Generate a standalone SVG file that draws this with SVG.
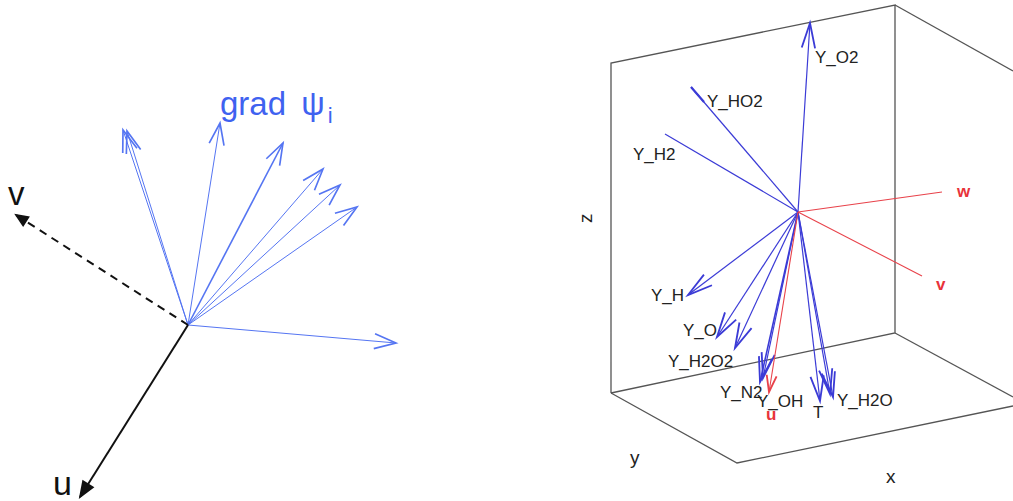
<svg xmlns="http://www.w3.org/2000/svg" width="1013" height="501" viewBox="0 0 1013 501">
<style>
.lb{stroke:#5575f2;stroke-width:1;fill:none}
.rb{stroke:#3b3bd6;stroke-width:1.2;fill:none}
.rr{stroke:#e8424a;stroke-width:1.1;fill:none}
.box{stroke:#555;stroke-width:1.3;fill:none}
.t{font-family:"Liberation Sans",Arial,sans-serif;font-size:17px;fill:#222}
.tr{font-family:"Liberation Sans",Arial,sans-serif;font-size:17px;font-weight:bold;fill:#e8333a}
.ax{font-family:"Liberation Sans",Arial,sans-serif;font-size:19px;fill:#222}
</style>
<defs>
<marker id="ml" markerUnits="userSpaceOnUse" orient="auto" refX="0" refY="0" markerWidth="30" markerHeight="30" viewBox="-16 -8 18 16" overflow="visible">
<path d="M-13,-4.5 L0,0 L-13,4.5" fill="none" stroke="#5575f2" stroke-width="1"/>
</marker>
<marker id="mr" markerUnits="userSpaceOnUse" orient="auto" refX="0" refY="0" markerWidth="30" markerHeight="30" viewBox="-16 -8 18 16" overflow="visible">
<path d="M-15,-4 L0,0 L-15,4" fill="none" stroke="#3b3bd6" stroke-width="1.1"/>
</marker>
<marker id="mred" markerUnits="userSpaceOnUse" orient="auto" refX="0" refY="0" markerWidth="30" markerHeight="30" viewBox="-16 -8 18 16" overflow="visible">
<path d="M-10,-3 L0,0 L-10,3" fill="none" stroke="#e8424a" stroke-width="1.1"/>
</marker>
<marker id="mk" markerUnits="userSpaceOnUse" orient="auto" refX="0" refY="0" markerWidth="30" markerHeight="30" viewBox="-16 -8 18 16" overflow="visible">
<path d="M-9,-3.5 L0,0 L-9,3.5 Z" fill="#111" stroke="#111" stroke-width="1"/>
</marker>
<marker id="mk2" markerUnits="userSpaceOnUse" orient="auto" refX="0" refY="0" markerWidth="30" markerHeight="30" viewBox="-16 -8 18 16" overflow="visible">
<path d="M-7,-3 L0,0 L-7,3 Z" fill="#111" stroke="#111" stroke-width="1"/>
</marker>
</defs>

<g id="left-panel">
<g id="left-connectors">
<line class="lb" x1="188" y1="325" x2="123" y2="130" marker-end="url(#ml)"/>
<line class="lb" x1="188" y1="325" x2="127" y2="131" marker-end="url(#ml)"/>
<line class="lb" x1="188" y1="325" x2="220" y2="123" marker-end="url(#ml)"/>
<line class="lb" x1="188" y1="325" x2="283" y2="143" marker-end="url(#ml)" style="stroke-width:1.6"/>
<line class="lb" x1="188" y1="325" x2="323" y2="169" marker-end="url(#ml)"/>
<line class="lb" x1="188" y1="325" x2="340" y2="185" marker-end="url(#ml)"/>
<line class="lb" x1="188" y1="325" x2="357" y2="207" marker-end="url(#ml)"/>
<line class="lb" x1="188" y1="325" x2="396" y2="343" marker-end="url(#ml)"/>
<line x1="188" y1="325" x2="80" y2="497" stroke="#111" stroke-width="2" marker-end="url(#mk)"/>
<line x1="188" y1="325" x2="16" y2="215" stroke="#111" stroke-width="2" stroke-dasharray="8,6" marker-end="url(#mk2)"/>
</g>
<g id="label-grad">
<text x="220" y="115" font-family="'Liberation Sans',Arial,sans-serif" font-size="33" fill="#3f62f0">grad <tspan dx="6">ψ</tspan><tspan font-size="22" dx="3" dy="8">i</tspan></text>
</g>
<g id="label-u-left"><text x="53" y="495" font-family="'Liberation Sans',Arial,sans-serif" font-size="34" fill="#111">u</text></g>
<g id="label-v-left"><text x="8" y="205" font-family="'Liberation Sans',Arial,sans-serif" font-size="33" fill="#111">v</text></g>
</g>

<g id="right-panel">
<g id="box">
<polyline class="box" points="611,393 611,63 895,5 895,333 611,393"/>
<line class="box" x1="895" y1="5" x2="1013" y2="71"/>
<polyline class="box" points="611,393 737,463 1013,406"/>
<line class="box" x1="895" y1="333" x2="1013" y2="397"/>
</g>
<g id="right-connectors">
<line class="rb" x1="798" y1="212" x2="810" y2="23" marker-end="url(#mr)"/>
<line class="rb" x1="798" y1="212" x2="691" y2="87"/>
<line class="rb" x1="704" y1="102" x2="691" y2="87" style="stroke-width:2.2"/>
<line class="rb" x1="798" y1="212" x2="665" y2="134"/>
<line class="rb" x1="798" y1="212" x2="688" y2="295" marker-end="url(#mr)"/>
<line class="rb" x1="798" y1="212" x2="717" y2="337" marker-end="url(#mr)"/>
<line class="rb" x1="798" y1="212" x2="735" y2="348" marker-end="url(#mr)"/>
<line class="rb" x1="798" y1="212" x2="760" y2="382" marker-end="url(#mr)" style="stroke-width:1.6"/>
<line class="rb" x1="798" y1="212" x2="763" y2="378" marker-end="url(#mr)"/>
<line class="rb" x1="798" y1="212" x2="820" y2="401" marker-end="url(#mr)"/>
<line class="rb" x1="798" y1="212" x2="833" y2="397" marker-end="url(#mr)"/>
<line class="rb" x1="798" y1="212" x2="830" y2="394" marker-end="url(#mr)"/>
<line class="rr" x1="798" y1="212" x2="942" y2="192"/>
<line class="rr" x1="798" y1="212" x2="922" y2="276"/>
<line class="rr" x1="798" y1="212" x2="769" y2="392" marker-end="url(#mred)"/>
</g>
<g id="labels-right">
<text class="t" x="815" y="63">Y_O2</text>
<text class="t" x="707" y="107">Y_HO2</text>
<text class="t" x="633" y="160">Y_H2</text>
<text class="t" x="651" y="301">Y_H</text>
<text class="t" x="683" y="336">Y_O</text>
<text class="t" x="668" y="367">Y_H2O2</text>
<text class="t" x="720" y="398">Y_N2</text>
<text class="t" x="757" y="407">Y_OH</text>
<text class="t" x="813" y="418">T</text>
<text class="t" x="837" y="406">Y_H2O</text>
<text class="tr" x="766" y="420">u</text>
<text class="tr" x="957" y="197">w</text>
<text class="tr" x="936" y="290">v</text>
</g>
<g id="axes-labels">
<text class="ax" x="0" y="0" transform="translate(592,223) rotate(-90)">z</text>
<text class="ax" x="630" y="464">y</text>
<text class="ax" x="886" y="483">x</text>
</g>
</g>
</svg>
